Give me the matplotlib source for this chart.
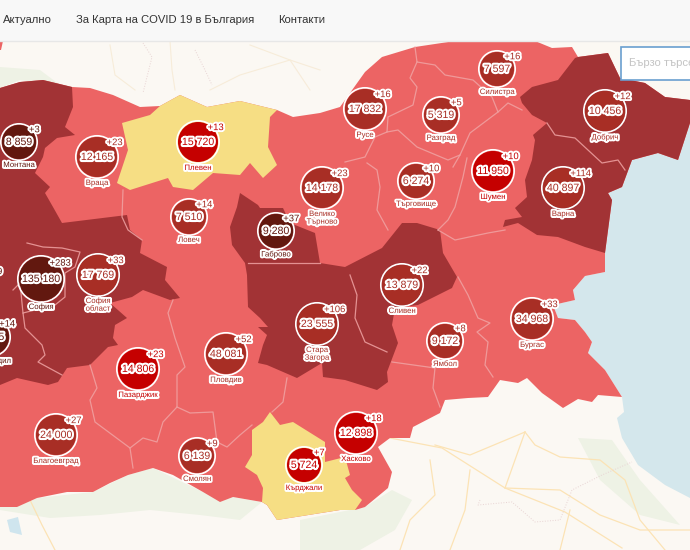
import matplotlib
matplotlib.use("Agg")
import matplotlib.pyplot as plt
from matplotlib.patches import Polygon, Circle, Rectangle
import matplotlib.patheffects as pe

plt.rcParams['font.family'] = ['Liberation Sans', 'DejaVu Sans']

# --- data ---
names = ["Монтана", "Враца", "Плевен", "Ловеч", "Габрово", "Велико\nТърново", "Русе", "Разград", "Силистра",
         "Добрич", "Търговище", "Шумен", "Варна", "София\nобласт", "София", "Кюстендил", "Перник", "Пазарджик", "Пловдив",
         "Стара\nЗагора", "Сливен", "Ямбол", "Бургас", "Благоевград", "Смолян", "Кърджали", "Хасково"]
totals = ["8 859", "12 165", "15 720", "7 510", "9 280", "14 178", "17 832", "5 319", "7 597",
          "10 456", "6 274", "11 950", "40 897", "17 769", "135 180", "7 505", "10 900", "14 806", "48 081",
          "23 555", "13 879", "9 172", "34 968", "24 000", "6 139", "5 724", "12 898"]
increments = [3, 23, 13, 14, 37, 23, 16, 5, 16, 12, 10, 10, 114, 33, 283, 14, 19, 23, 52, 106, 22, 8, 33, 27, 9, 7, 18]
levels = [2, 1, 0, 1, 2, 1, 1, 1, 1, 1, 1, 0, 1, 1, 2, 2, 2, 0, 1, 1, 1, 1, 1, 1, 1, 0, 0]
centre_x = [19, 97, 198, 189, 276, 322, 365, 441, 497, 605, 416, 493, 563, 98, 41, -9, -21, 138, 226, 317, 402, 445, 532, 56, 197, 304, 356]
centre_y = [142, 157, 142, 217, 231, 188, 109, 115, 69, 111, 181, 171, 188, 275, 279, 337, 284, 369, 354, 324, 285, 341, 319, 435, 456, 465, 433]
radii = [17, 20, 20, 17, 17, 20, 20, 17, 17, 20, 17, 20, 20, 20, 22, 18, 17, 20, 20, 20, 20, 17, 20, 20, 17, 17, 20]
nav_items = ["Актуално", "За Карта на COVID 19 в България", "Контакти"]
search_hint = "Бързо търсене"

# --- map shapes, in screenshot pixels ---
country = [(0,88),(20,82),(43,80),(72,87),(90,88),(113,95),(140,107),(160,106),(180,95),(207,107),(240,101),(277,110),
           (293,117),(320,113),(340,107),(365,72),(382,57),(415,47),(455,41),(535,41),(552,48),(572,47),(578,57),(608,53),
           (620,78),(645,83),(665,97),(690,100),(690,123),(678,160),(658,153),(632,160),(622,187),(608,193),(612,200),
           (605,253),(605,272),(585,276),(573,290),(575,300),(553,305),(558,318),(575,320),(585,332),(592,342),(588,353),
           (605,370),(622,397),(598,395),(592,402),(578,399),(563,408),(542,393),(527,378),(518,383),(500,380),(488,397),
           (468,398),(445,400),(440,413),(413,427),(410,438),(390,438),(378,447),(392,472),(388,488),(365,507),(355,510),
           (340,510),(277,520),(267,505),(262,502),(233,497),(220,502),(203,492),(173,475),(153,468),(128,475),(110,483),
           (93,492),(67,492),(37,498),(17,507),(0,507)]
dark_west = [(0,88),(20,82),(43,80),(72,87),(73,107),(65,127),(75,135),(57,138),(45,148),(43,157),(35,173),(50,187),(45,193),
             (53,207),(62,223),(127,215),(130,230),(142,240),(140,253),(167,267),(165,280),(180,298),(170,300),(143,290),
             (132,297),(110,303),(127,318),(115,325),(113,338),(118,345),(108,347),(90,365),(67,368),(58,382),(48,385),
             (17,378),(0,385)]
dark_centre = [(240,193),(258,205),(260,208),(283,208),(290,223),(315,233),(320,263),(345,267),(382,248),(402,223),(417,223),
               (440,230),(443,253),(457,277),(452,288),(418,305),(395,308),(392,325),(398,343),(387,372),(388,382),(377,390),
               (345,380),(323,377),(322,363),(297,378),(267,365),(258,363),(263,345),(267,335),(258,327),(268,327),(260,318),
               (248,307),(247,275),(245,263),(232,245),(230,227),(237,207)]
dark_east = [(575,58),(578,57),(608,53),(620,78),(645,83),(665,97),(690,100),(690,123),(678,160),(658,153),(632,160),(622,187),
             (608,193),(612,200),(605,253),(585,247),(558,237),(537,235),(518,223),(503,227),(505,220),(522,217),(515,208),
             (527,197),(525,180),(532,160),(535,140),(533,135),(547,123),(532,115),(522,103),(520,97),(532,87),(558,80)]
yellow_north = [(160,106),(180,95),(207,107),(240,101),(277,110),(270,117),(268,147),(277,165),(263,178),(250,163),(240,175),
                (213,173),(193,190),(173,187),(168,178),(130,190),(117,183),(128,150),(122,123),(150,115)]
yellow_south = [(270,412),(280,425),(293,422),(325,442),(325,462),(345,457),(350,475),(345,478),(352,490),(362,500),(355,510),
                (340,510),(277,520),(267,505),(262,502),(263,488),(257,475),(245,467),(252,455),(252,430),(263,422)]
sea = [(690,123),(678,160),(658,153),(632,160),(622,187),(608,193),(612,200),(605,253),(605,272),(585,276),(573,290),(575,300),
       (553,305),(558,318),(575,320),(585,332),(592,342),(588,353),(605,370),(622,397),(624,412),(617,418),(622,438),(638,465),
       (665,485),(690,498),(690,123)]
borders = [
    [(415,47),(417,62),(435,65),(445,75),(473,80),(492,97),(498,112),(508,103),(522,110)],
    [(417,62),(410,78),(417,87),(413,105),(388,117),(387,132),(375,137),(365,157),(345,162)],
    [(498,112),(470,133),(460,155),(453,167)],
    [(387,132),(398,130),(417,147),(448,160),(460,155)],
    [(467,158),(463,177),(455,207),(448,220),(438,230)],
    [(367,163),(377,170),(380,187),(377,210),(388,230)],
    [(438,230),(455,240),(488,233),(505,230)],
    [(547,123),(555,135),(575,138),(602,163),(618,160),(625,170)],
    [(123,190),(122,217),(128,230),(142,240)],
    [(27,243),(43,247),(62,248),(80,252),(75,267),(65,273),(65,297),(55,305),(23,313),(25,328),(42,345),(45,355),(38,362),(62,375)],
    [(13,290),(20,283),(23,313)],
    [(90,365),(97,388),(90,400),(95,422),(130,448),(133,468)],
    [(130,448),(143,438),(157,442),(163,422),(177,407),(177,375),(185,367),(175,338),(168,313),(173,300)],
    [(177,407),(190,413),(213,412),(217,442),(227,447),(240,435),(252,425)],
    [(272,412),(283,402),(287,378)],
    [(458,277),(468,295),(478,318),(490,323),(477,332),(488,342),(485,365),(493,377)],
    [(392,362),(435,368),(433,388),(440,407)],
    [(350,275),(357,295),(355,318),(365,342),(387,352)],
    [(248,263),(320,263)],
]
roads = [
    [(390,438),(442,448),(505,488),(565,512),(622,548)],
    [(525,432),(505,488)],
    [(525,432),(535,445),(560,457),(600,460),(625,480),(640,520),(665,550)],
    [(435,445),(470,455),(525,432)],
    [(470,470),(465,510),(450,550)],
    [(430,460),(435,495),(410,520),(400,550)],
    [(505,488),(560,490),(600,515),(640,530),(690,530)],
    [(570,510),(560,550)],
    [(30,500),(42,525),(55,550)],
]
faint_roads = [
    [(210,90),(240,75),(290,60),(320,70)],
    [(250,45),(290,60),(310,90)],
    [(110,45),(115,75),(135,90)],
    [(170,41),(172,70),(175,90)],
]
frontiers = [
    [(143,43),(152,57),(143,93)],
    [(195,50),(205,70),(212,85)],
    [(480,500),(478,505),(512,502),(535,522),(560,520),(572,490),(602,475),(632,462)],
]
forest = [[(0,67),(40,70),(60,85),(20,80),(0,88)],
          [(578,438),(612,440),(640,480),(680,525),(640,515),(600,480)],
          [(0,507),(37,498),(93,492),(128,475),(153,468),(203,492),(262,502),(240,520),(200,515),(150,510),(100,515),(50,518),(0,510)],
          [(300,520),(365,507),(392,490),(412,500),(395,530),(360,550),(300,550)]]
water = [(7,520),(18,517),(22,535),(10,532)]
corner_mark = [(0,41),(3,41),(1,50),(0,50)]

COL_LIGHT, COL_DARK, COL_YEL = "#ec6464", "#a23335", "#f6de84"
COL_CIRCLE = ["#c50000", "#a82e25", "#62180f"]

fig = plt.figure(figsize=(6.9, 5.5), dpi=100, facecolor="#fbf8f3")
ax = fig.add_axes([0, 0, 1, 1])
ax.set_xlim(0, 690)
ax.set_ylim(550, 0)
ax.axis("off")

ax.add_patch(Rectangle((0, 0), 690, 550, fc="#fbf8f3", ec="none", zorder=0))
for f in forest:
    ax.add_patch(Polygon(f, fc="#eef2e5", ec="none", zorder=0.5))
ax.add_patch(Polygon(water, fc="#cfe5ee", ec="none", zorder=0.6))
ax.add_patch(Polygon(sea, fc="#d4e7ec", ec="none", zorder=1))
for r in roads:
    ax.plot(*zip(*r), color="#fbe3b5", lw=0.9, zorder=1.5)
for r in faint_roads:
    ax.plot(*zip(*r), color="#f7ecd9", lw=0.8, zorder=1.5)
for r in frontiers:
    ax.plot(*zip(*r), color="#e8d3d3", lw=0.7, ls=":", zorder=1.5)

ax.add_patch(Polygon(country, fc=COL_LIGHT, ec="none", zorder=2))
ax.add_patch(Polygon(corner_mark, fc=COL_LIGHT, ec="none", zorder=2))
for shape in (dark_west, dark_centre, dark_east):
    ax.add_patch(Polygon(shape, fc=COL_DARK, ec="none", zorder=3))
for shape in (yellow_north, yellow_south):
    ax.add_patch(Polygon(shape, fc=COL_YEL, ec="none", zorder=3))
for b in borders:
    ax.plot(*zip(*b), color="#f0a3a3", lw=0.9, alpha=0.85, zorder=4)

for name, tot, inc, lev, x, y, r in zip(names, totals, increments, levels, centre_x, centre_y, radii):
    col = COL_CIRCLE[lev]
    ax.add_patch(Circle((x, y), r + 1.2, fc="none", ec="white", lw=1.2, zorder=5))
    ax.add_patch(Circle((x, y), r, fc=col, ec="none", zorder=5))
    ax.text(x, y, tot, ha="center", va="center", fontsize=7.6, color=col, zorder=6,
            path_effects=[pe.withStroke(linewidth=3, foreground="white")], clip_on=True)
    ax.text(x + r * 0.78 + 2, y - r * 0.72, f"+{inc}", ha="center", va="center", fontsize=6.8, color=col,
            zorder=7, path_effects=[pe.withStroke(linewidth=2.8, foreground="white")], clip_on=True)
    ax.text(x, y + r + 3, name, ha="center", va="top", fontsize=5.6, color=col, zorder=6,
            path_effects=[pe.withStroke(linewidth=2.8, foreground="white")], linespacing=1.15, clip_on=True)

# navigation bar
ax.add_patch(Rectangle((0, 0), 690, 41, fc="#f8f8f8", ec="none", zorder=10))
ax.plot([0, 690], [41, 41], color="#e7e7e7", lw=1, zorder=10)
for label, x in zip(nav_items, [3, 76, 278]):
    ax.text(x, 20, label, ha="left", va="center", fontsize=8.1, color="#333333", zorder=11)

# search box
ax.add_patch(Rectangle((620.5, 46.5), 80, 33, fc="white", ec="#6a9fd0", lw=1.2, zorder=10))
ax.text(629, 63, search_hint, ha="left", va="center", fontsize=8.1, color="#c4c4c4", zorder=11, clip_on=True)

fig.savefig("out.png", dpi=100, facecolor=fig.get_facecolor())
